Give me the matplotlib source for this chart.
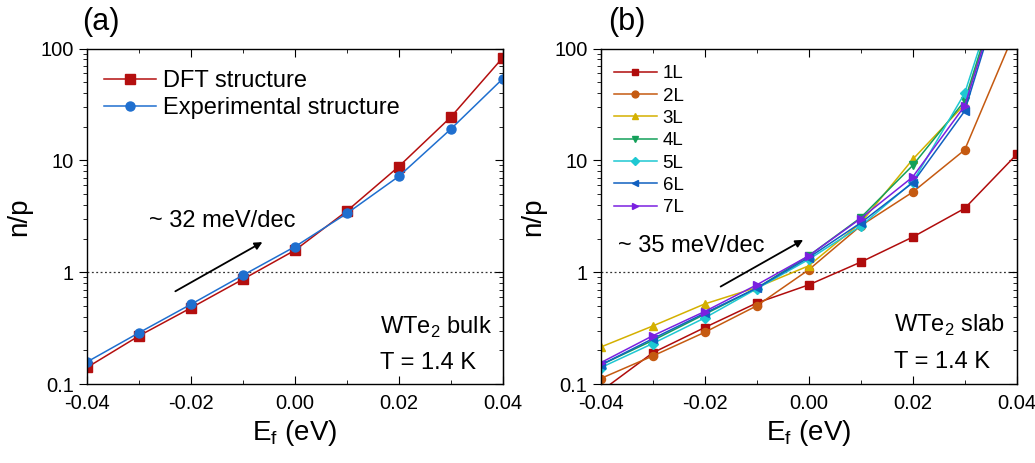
import matplotlib
matplotlib.use("Agg")
import matplotlib.pyplot as plt
from matplotlib.ticker import FixedLocator, FuncFormatter, LogLocator, MultipleLocator

plt.rcParams['font.family'] = ['Liberation Sans', 'DejaVu Sans']

# energies (eV)
ef = [-0.04, -0.03, -0.02, -0.01, 0.0, 0.01, 0.02, 0.03, 0.04]

# panel (a): bulk
dft = [0.141, 0.27, 0.48, 0.865, 1.57, 3.52, 8.8, 24.3, 82.5]
expt = [0.158, 0.288, 0.517, 0.94, 1.69, 3.35, 7.19, 19.0, 53.5]

# panel (b): slabs
layers = ['1L', '2L', '3L', '4L', '5L', '6L', '7L']
n1 = [0.086, 0.19, 0.32, 0.53, 0.77, 1.23, 2.06, 3.72, 11.3]
n2 = [0.112, 0.178, 0.29, 0.50, 1.05, 2.6, 5.2, 12.4, 155]
n3 = [0.214, 0.33, 0.52, 0.73, 1.14, 2.76, 10.2, 31.7, 1000]
n4 = [0.148, 0.245, 0.42, 0.72, 1.40, 3.07, 9.0, 34.0, 1050]
n5 = [0.14, 0.23, 0.39, 0.71, 1.30, 2.58, 6.4, 39.8, 1100]
n6 = [0.148, 0.254, 0.43, 0.72, 1.35, 2.76, 6.3, 27.6, 900]
n7 = [0.155, 0.27, 0.445, 0.77, 1.40, 3.02, 7.1, 30.7, 950]
slabs = [n1, n2, n3, n4, n5, n6, n7]

slab_colors = ['#b00c0c', '#c55a11', '#d4b000', '#14a05a', '#1ec8d2', '#1060c0', '#7a20e0']
slab_markers = ['s', 'o', '^', 'v', 'D', '<', '>']

fig = plt.figure(figsize=(10.35, 4.63), dpi=100)
ax1 = fig.add_axes([0.0843, 0.1706, 0.4013, 0.7246])
ax2 = fig.add_axes([0.5804, 0.1706, 0.4019, 0.7246])

ax1.plot(ef, dft, '-s', color='#b40f0f', lw=1.1, ms=6.5, label='DFT structure')
ax1.plot(ef, expt, '-o', color='#1f6fcf', lw=1.1, ms=6.5, label='Experimental structure')
ax1.legend(loc='upper left', frameon=False, fontsize=17, handlelength=2.2,
           handletextpad=0.3, labelspacing=0.2, borderaxespad=0.3,
           bbox_to_anchor=(0.0, 0.985))

for i in range(len(layers)):
    ms = 5 if slab_markers[i] == 'D' else 5.8
    ax2.plot(ef, slabs[i], '-', marker=slab_markers[i], color=slab_colors[i],
             lw=1.1, ms=ms, label=layers[i])
ax2.legend(loc='upper left', frameon=False, fontsize=13.5, handlelength=2.3,
           handletextpad=0.3, labelspacing=0.28, borderaxespad=0.3,
           markerscale=0.85, bbox_to_anchor=(0.0, 0.99))

for ax in [ax1, ax2]:
    ax.set_yscale('log')
    ax.set_xlim(-0.04, 0.04)
    ax.set_ylim(0.1, 100)
    ax.axhline(1, color='#333333', ls=(0, (1.5, 2)), lw=0.9, zorder=0)
    ax.xaxis.set_major_locator(MultipleLocator(0.02))
    ax.xaxis.set_minor_locator(MultipleLocator(0.01))
    ax.xaxis.set_major_formatter(FuncFormatter(lambda v, p: '%.2f' % v))
    ax.yaxis.set_major_locator(FixedLocator([0.1, 1, 10, 100]))
    ax.yaxis.set_major_formatter(FuncFormatter(lambda v, p: '%g' % v))
    ax.yaxis.set_minor_locator(LogLocator(base=10, subs=range(2, 10)))
    ax.tick_params(axis='x', which='both', direction='in', top=True, labelsize=14.5)
    ax.tick_params(axis='x', which='major', length=6, pad=7)
    ax.tick_params(axis='x', which='minor', length=3)
    ax.tick_params(axis='y', which='both', direction='out', labelsize=14.5)
    ax.tick_params(axis='y', which='major', length=6)
    ax.tick_params(axis='y', which='minor', length=3)
    for s in ax.spines.values():
        s.set_linewidth(1.0)
    ax.set_xlabel('E$_\\mathregular{f}$ (eV)', fontsize=20, labelpad=4)
    ax.set_ylabel('n/p', fontsize=20, labelpad=6)

# right-side inward ticks
for ax in [ax1, ax2]:
    sec = ax.secondary_yaxis('right')
    sec.yaxis.set_major_locator(FixedLocator([0.1, 1, 10, 100]))
    sec.yaxis.set_minor_locator(LogLocator(base=10, subs=range(2, 10)))
    sec.tick_params(which='both', direction='in', labelright=False)
    sec.tick_params(which='major', length=6)
    sec.tick_params(which='minor', length=3)

ax1.annotate('', xy=(-0.0058, 1.91), xytext=(-0.0235, 0.656),
             arrowprops=dict(arrowstyle='-|>', color='black', lw=1.3, mutation_scale=11))
ax1.text(-0.0281, 2.88, '~ 32 meV/dec', fontsize=17, va='center', ha='left')
ax2.annotate('', xy=(-0.0006, 2.0), xytext=(-0.0174, 0.723),
             arrowprops=dict(arrowstyle='-|>', color='black', lw=1.3, mutation_scale=11))
ax2.text(-0.0367, 1.71, '~ 35 meV/dec', fontsize=17, va='center', ha='left')

ax1.text(0.705, 0.17, 'WTe$_\\mathregular{2}$ bulk', transform=ax1.transAxes, fontsize=17, va='center')
ax1.text(0.705, 0.063, 'T = 1.4 K', transform=ax1.transAxes, fontsize=17, va='center')
ax2.text(0.705, 0.176, 'WTe$_\\mathregular{2}$ slab', transform=ax2.transAxes, fontsize=17, va='center')
ax2.text(0.705, 0.066, 'T = 1.4 K', transform=ax2.transAxes, fontsize=17, va='center')

fig.text(0.079, 0.953, '(a)', fontsize=22, va='center')
fig.text(0.588, 0.953, '(b)', fontsize=22, va='center')

fig.savefig('out.png', dpi=100)
